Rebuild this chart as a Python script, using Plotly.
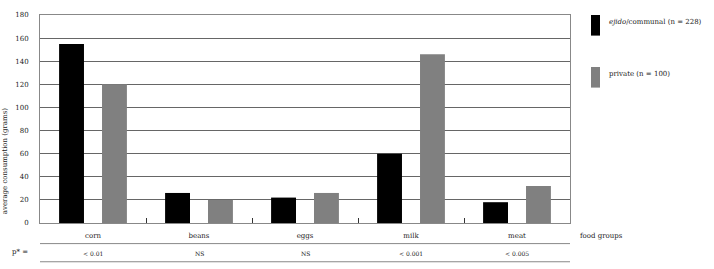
import plotly.graph_objects as go

categories = ["corn", "beans", "eggs", "milk", "meat"]
ejido = [155, 26, 22, 60, 18]
private = [120, 20, 26, 146, 32]
p_values = ["< 0.01", "NS", "NS", "< 0.001", "< 0.005"]
y_ticks = [0, 20, 40, 60, 80, 100, 120, 140, 160, 180]

FONT = "DejaVu Serif"
TXT = "#222"
fig = go.Figure()
fig.add_bar(x=categories, y=ejido, name="ejido/communal (n = 228)",
            marker=dict(color="#000000", line=dict(width=0)))
fig.add_bar(x=categories, y=private, name="private (n = 100)",
            marker=dict(color="#808080", line=dict(width=0)))

L, R, T, B = 40, 144, 11, 46
W, H = 714, 269
pw, ph = W - L - R, H - T - B

def px(xp):
    return (xp - L) / pw

def py(yp):
    return (H - B - yp) / ph

fig.update_layout(
    width=W, height=H,
    margin=dict(l=L, r=R, t=T, b=B),
    paper_bgcolor="white", plot_bgcolor="white",
    barmode="group", bargap=0.19, bargroupgap=0.42,
    showlegend=False,
    font=dict(family=FONT, size=7, color=TXT),
)
fig.update_xaxes(
    showline=True, linecolor="#888", linewidth=1, mirror=True,
    ticks="inside", tickson="boundaries", ticklen=5, tickcolor="#333",
    tickfont=dict(family=FONT, size=7, color=TXT),
    ticklabelstandoff=6,
)
fig.update_yaxes(
    range=[0, 180], tickvals=y_ticks, ticktext=[str(v) for v in y_ticks],
    showgrid=True, gridcolor="#666", gridwidth=1,
    showline=True, linecolor="#888", linewidth=1, mirror=True,
    ticks="", tickfont=dict(family=FONT, size=7, color=TXT),
    ticklabelstandoff=9, zeroline=False,
)

def note(text, x, y, xref="paper", xanchor="center", size=7, angle=0):
    fig.add_annotation(text=text, xref=xref, yref="paper", x=x, y=y,
                       xanchor=xanchor, yanchor="middle", textangle=angle,
                       showarrow=False, font=dict(family=FONT, size=size, color=TXT))

# axis titles
note("average consumption (grams)", px(5), py(160), angle=-90)
note("food groups", px(578), py(236), xanchor="left")

# p-value row
note("p* =", px(30), py(253), xanchor="right")
for c, p in zip(categories, p_values):
    note(p, c, py(254), xref="x", size=6)

for yp in (244, 262.5):
    fig.add_shape(type="line", xref="paper", yref="paper", x0=0, x1=1,
                  y0=py(yp), y1=py(yp), line=dict(color="#888", width=1))

# legend
legend_items = [("<i>ejido</i>/communal (n = 228)", "#000000", 11),
                ("private (n = 100)", "#808080", 64)]
for txt, col, top in legend_items:
    fig.add_shape(type="rect", xref="paper", yref="paper",
                  x0=px(591), x1=px(600), y0=py(top), y1=py(top + 21),
                  fillcolor=col, line=dict(width=0))
    note(txt, px(607), py(top + 7), xanchor="left")

fig.write_html("out.html")
